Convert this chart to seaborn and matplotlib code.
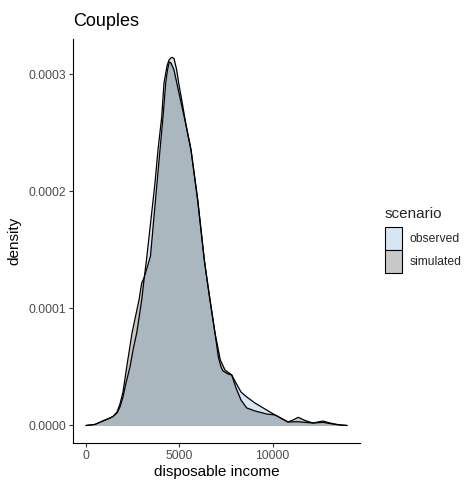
import matplotlib
matplotlib.use("Agg")
import matplotlib.pyplot as plt
import seaborn as sns
import pandas as pd
from matplotlib.patches import Patch
from matplotlib.ticker import FuncFormatter

# curvas de densidade (renda, densidade x 1e-4)
renda_obs = [0, 482, 911, 1286, 1447, 1662, 1822, 1983, 2144, 2358, 2519, 2718,
             2841, 2986, 3109, 3254, 3698, 3859, 4058, 4181, 4342, 4449, 4594,
             4717, 4861, 4985, 5130, 5360, 5628, 5987, 6341, 6486, 6646, 6914,
             7091, 7236, 7343, 7611, 7810, 8040, 8308, 8614, 9058, 9686, 10130,
             10827, 11363, 12167, 12703, 13346, 13990]
dens_obs = [0.0, 0.009, 0.039, 0.064, 0.077, 0.107, 0.158, 0.244, 0.363, 0.50,
            0.645, 0.79, 0.919, 1.073, 1.244, 1.432, 2.073, 2.355, 2.637, 2.927,
            3.073, 3.124, 3.147, 3.137, 3.038, 2.910, 2.782, 2.568, 2.355, 1.927,
            1.415, 1.244, 1.073, 0.79, 0.588, 0.50, 0.466, 0.440, 0.432, 0.363,
            0.286, 0.244, 0.192, 0.132, 0.090, 0.030, 0.032, 0.021, 0.027,
            0.009, 0.0]

renda_sim = [0, 482, 911, 1286, 1447, 1662, 1822, 1983, 2182, 2466, 2841, 2986,
             3109, 3270, 3457, 3806, 4127, 4272, 4368, 4465, 4556, 4717, 4878,
             5065, 5360, 5628, 5987, 6341, 6646, 6914, 7198, 7450, 7810, 8040,
             8308, 8614, 9058, 9686, 10130, 10827, 11095, 11379, 11738, 12167,
             12435, 12703, 13078, 13614, 13990]
dens_sim = [0.0, 0.009, 0.039, 0.064, 0.077, 0.115, 0.184, 0.286, 0.50, 0.79,
            1.073, 1.218, 1.261, 1.346, 1.449, 2.073, 2.637, 2.927, 3.038, 3.107,
            3.098, 3.038, 2.918, 2.782, 2.568, 2.355, 1.927, 1.415, 1.073, 0.79,
            0.560, 0.474, 0.432, 0.321, 0.218, 0.150, 0.124, 0.098, 0.090, 0.030,
            0.047, 0.070, 0.043, 0.021, 0.030, 0.038, 0.021, 0.004, 0.0]

cenarios = ["observed", "simulated"]
cores_preenchimento = {"observed": "#d6e7f3", "simulated": "#484848"}
alfas = {"observed": 1.0, "simulated": 0.3}
cores_legenda = {"observed": "#d6e7f3", "simulated": "#c8c8c8"}
ticks_x = [0, 5000, 10000]
ticks_y = [0, 0.0001, 0.0002, 0.0003]

df = pd.concat([
    pd.DataFrame({"renda": renda_obs, "densidade": [d * 1e-4 for d in dens_obs], "scenario": "observed"}),
    pd.DataFrame({"renda": renda_sim, "densidade": [d * 1e-4 for d in dens_sim], "scenario": "simulated"}),
], ignore_index=True)

sns.set_style("white")
plt.rcParams['font.family'] = ['Liberation Sans', 'DejaVu Sans']

fig = plt.figure(figsize=(4.71, 4.84), dpi=100)
ax = fig.add_axes([73 / 471, 41 / 484, 287 / 471, 404 / 484])

for cen in cenarios:
    sub = df[df["scenario"] == cen]
    ax.fill_between(sub["renda"], 0, sub["densidade"], color=cores_preenchimento[cen],
                    alpha=alfas[cen], lw=0)
    sns.lineplot(data=sub, x="renda", y="densidade", color="black", lw=0.9,
                 ax=ax, legend=False, sort=False)

ax.set_xlim(-697, 14686)
ax.set_ylim(-1.496e-5, 3.303e-4)
ax.set_xticks(ticks_x)
ax.set_yticks(ticks_y)
ax.yaxis.set_major_formatter(FuncFormatter(lambda v, p: f"{v:.4f}"))

for lado in ["top", "right"]:
    ax.spines[lado].set_visible(False)
for lado in ["left", "bottom"]:
    ax.spines[lado].set_color("black")
    ax.spines[lado].set_linewidth(0.8)

ax.tick_params(axis="both", which="major", length=2.7, width=0.8, color="#333333",
               labelcolor="#4d4d4d", labelsize=8.7, pad=2.5, bottom=True, left=True)

ax.set_title("Couples", loc="left", fontsize=13, pad=9, color="black")
ax.set_xlabel("disposable income", fontsize=11, labelpad=2, color="black")
ax.set_ylabel("density", fontsize=11, labelpad=5, color="black")

alcas = [Patch(facecolor=cores_legenda[c], edgecolor="black", lw=0.8) for c in cenarios]
leg = fig.legend(alcas, cenarios, title="scenario", loc="upper left",
                 bbox_to_anchor=(385 / 471, 1 - 207 / 484), frameon=False,
                 fontsize=8.7, title_fontsize=11, handlelength=1.4, handleheight=2.56,
                 labelspacing=0, handletextpad=0.65, borderpad=0, borderaxespad=0)
leg._legend_box.align = "left"
leg._legend_box.sep = 4

fig.savefig("out.png", dpi=100)
plt.close(fig)
